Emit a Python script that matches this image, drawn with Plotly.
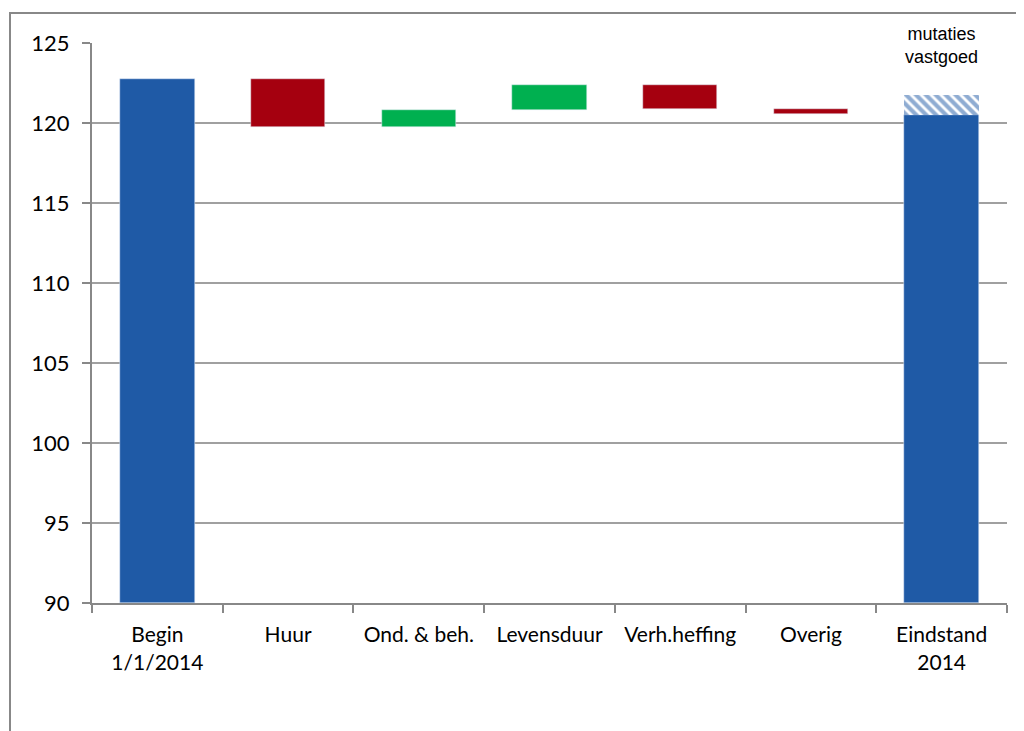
import plotly.graph_objects as go

categories = ["Begin<br>1/1/2014", "Huur", "Ond. & beh.", "Levensduur",
              "Verh.heffing", "Overig", "Eindstand<br>2014"]
start_value = 122.75
changes = [-3.0, 1.06, 1.56, -1.5, -0.31]
end_solid = 120.5
mutaties_vastgoed = 1.25
y_ticks = [90, 95, 100, 105, 110, 115, 120, 125]

BLUE = "#1F5AA6"
RED = "#A5000F"
GREEN = "#00B050"
GRID = "#A0A0A0"
FONT = "Lato"

fig = go.Figure()
W = 0.57

fig.add_trace(go.Bar(x=[categories[0]], y=[start_value - 90], base=[90],
                     marker_color=BLUE, width=W, showlegend=False))

level = start_value
for cat, ch in zip(categories[1:6], changes):
    lo = min(level, level + ch)
    fig.add_trace(go.Bar(x=[cat], y=[abs(ch)], base=[lo],
                         marker_color=GREEN if ch > 0 else RED,
                         width=W, showlegend=False))
    level += ch

fig.add_trace(go.Bar(x=[categories[6]], y=[end_solid - 90], base=[90],
                     marker_color=BLUE, width=W, showlegend=False))
fig.add_trace(go.Bar(x=[categories[6]], y=[mutaties_vastgoed], base=[end_solid],
                     marker=dict(color="white", line=dict(width=0),
                                 pattern=dict(shape="\\", fgcolor=BLUE, bgcolor="white",
                                              size=7, solidity=0.6, fillmode="overlay")),
                     width=W, showlegend=False))

fig.add_annotation(x=categories[6], y=124.85, xref="x", yref="y",
                   text="mutaties<br>vastgoed", showarrow=False,
                   font=dict(family="Liberation Sans", size=18, color="#000"),
                   yanchor="middle")

# outer chart border
fig.add_shape(type="rect", xref="paper", yref="paper",
              x0=(10 - 92) / 915, x1=1.2, y0=-0.5, y1=(603 - 13) / 560,
              line=dict(color="#888888", width=2), layer="below")

fig.update_layout(
    width=1016, height=723,
    margin=dict(l=84, r=17, t=35, b=128),
    paper_bgcolor="white", plot_bgcolor="white",
    barmode="overlay", bargap=0,
    font=dict(family=FONT, size=22, color="#000"),
    xaxis=dict(type="category", categoryorder="array", categoryarray=categories,
               tickson="boundaries", ticks="outside", ticklen=8, tickcolor="#888888",
               tickwidth=2, showline=True, linecolor="#888888", linewidth=2,
               showgrid=False, ticklabelstandoff=12,
               tickfont=dict(family=FONT, size=21)),
    yaxis=dict(range=[90, 125], tickvals=y_ticks, ticks="outside", ticklen=8,
               tickcolor="#888888", tickwidth=2, showline=True, linecolor="#888888",
               linewidth=2, showgrid=True, gridcolor=GRID, gridwidth=1.5,
               zeroline=False, ticklabelstandoff=8,
               tickfont=dict(family=FONT, size=22)),
)

fig.write_html("out.html")
